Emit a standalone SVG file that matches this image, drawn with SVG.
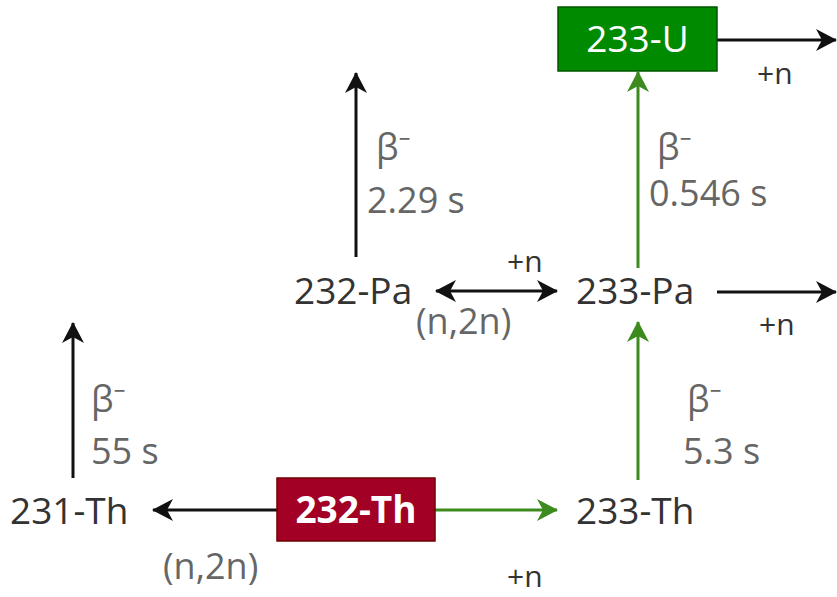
<svg xmlns="http://www.w3.org/2000/svg" width="837" height="597" viewBox="0 0 837 597">
<style>
.node{font-family:"Open Sans","Noto Sans","DejaVu Sans",sans-serif;font-size:37px;fill:#333;}
.lbl{font-family:"Open Sans","Noto Sans","DejaVu Sans",sans-serif;font-size:36px;fill:#666;}
.pn{font-family:"Open Sans","Noto Sans","DejaVu Sans",sans-serif;font-size:30px;fill:#333;}
.box{font-family:"Open Sans","Noto Sans","DejaVu Sans",sans-serif;font-size:37px;fill:#fff;text-anchor:middle;}
.k{stroke:#111;stroke-width:3;fill:none;}
.g{stroke:#3d8b1e;stroke-width:3;fill:none;}
</style>
<defs>
<marker id="ak" markerUnits="userSpaceOnUse" markerWidth="22" markerHeight="24" refX="20" refY="12" orient="auto-start-reverse" viewBox="0 0 22 24">
<path d="M0,1 L21,12 L0,23 L6,12 Z" fill="#111"/>
</marker>
<marker id="ag" markerUnits="userSpaceOnUse" markerWidth="22" markerHeight="24" refX="20" refY="12" orient="auto" viewBox="0 0 22 24">
<path d="M0,1 L21,12 L0,23 L6,12 Z" fill="#3d8b1e"/>
</marker>
</defs>
<g id="connectors">
<line class="k" x1="717" y1="40" x2="836" y2="40" marker-end="url(#ak)"/>
<line class="g" x1="638" y1="268" x2="638" y2="72" marker-end="url(#ag)"/>
<line class="k" x1="356" y1="257" x2="356" y2="73" marker-end="url(#ak)"/>
<line class="k" x1="436" y1="291" x2="557" y2="291" marker-start="url(#ak)" marker-end="url(#ak)"/>
<line class="k" x1="717" y1="292" x2="836" y2="292" marker-end="url(#ak)"/>
<line class="g" x1="638" y1="480" x2="638" y2="322" marker-end="url(#ag)"/>
<line class="k" x1="73" y1="478" x2="73" y2="323" marker-end="url(#ak)"/>
<line class="k" x1="277" y1="510" x2="153" y2="510" marker-end="url(#ak)"/>
<line class="g" x1="435" y1="510" x2="557" y2="510" marker-end="url(#ag)"/>
<text class="pn" x="757" y="84">+n</text>
<text class="lbl" x="657" y="160">β⁻</text>
<text class="lbl" x="649" y="206">0.546 s</text>
<text class="lbl" x="376" y="160">β⁻</text>
<text class="lbl" x="367" y="213">2.29 s</text>
<text class="pn" x="507" y="272">+n</text>
<text class="lbl" x="416" y="334">(n,2n)</text>
<text class="pn" x="759" y="335">+n</text>
<text class="lbl" x="687" y="412">β⁻</text>
<text class="lbl" x="683" y="464">5.3 s</text>
<text class="lbl" x="91" y="412">β⁻</text>
<text class="lbl" x="91" y="464">55 s</text>
<text class="lbl" x="163" y="579">(n,2n)</text>
<text class="pn" x="507" y="587">+n</text>
</g>
<g id="n233U">
<rect x="558" y="7" width="159" height="64" fill="#008a00" stroke="#005700" stroke-width="1.5"/>
<text class="box" x="637.5" y="52">233-U</text>
</g>
<g id="n232Pa"><text class="node" x="294" y="304">232-Pa</text></g>
<g id="n233Pa"><text class="node" x="576" y="304">233-Pa</text></g>
<g id="n231Th"><text class="node" x="10" y="524">231-Th</text></g>
<g id="n233Th"><text class="node" x="576" y="524">233-Th</text></g>
<g id="n232Th">
<rect x="277" y="478" width="158" height="63" fill="#a20025" stroke="#6f0000" stroke-width="1.5"/>
<text class="box" x="356" y="523" font-weight="bold">232-Th</text>
</g>
</svg>
